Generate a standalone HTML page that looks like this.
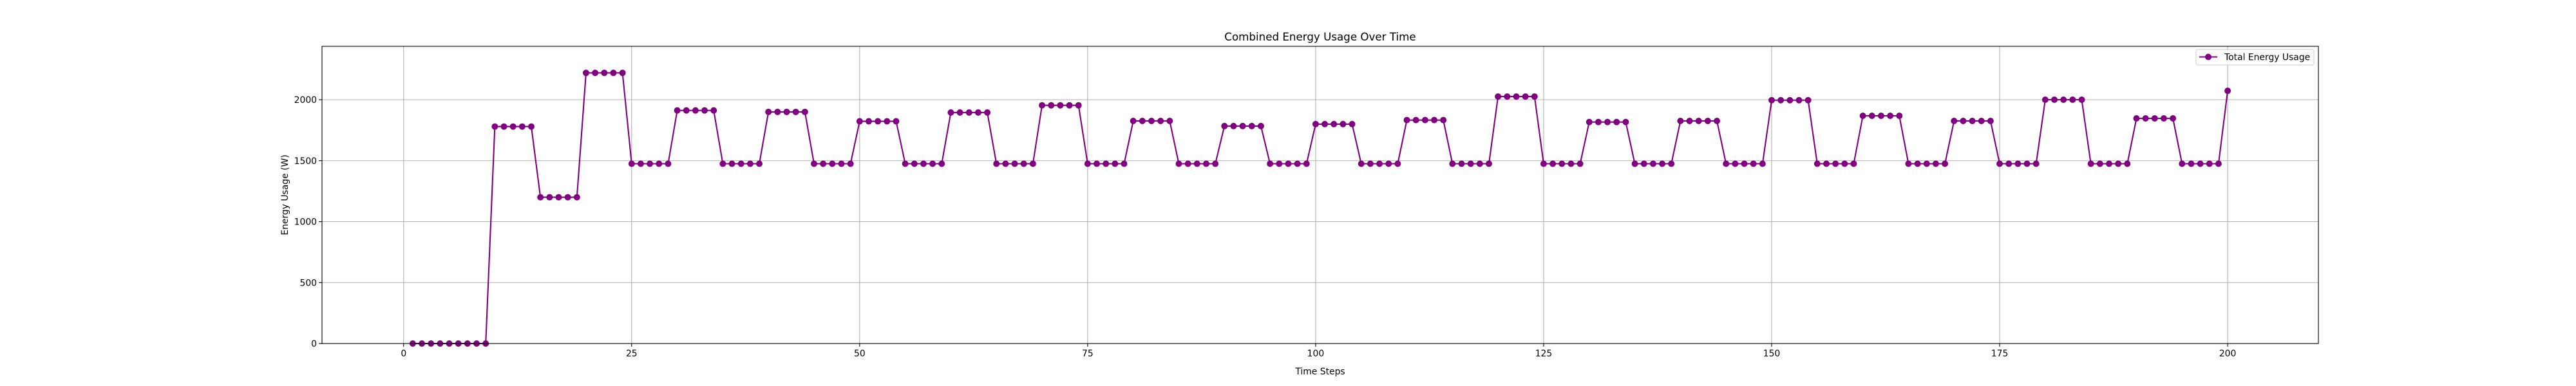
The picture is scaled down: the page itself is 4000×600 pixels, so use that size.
<!DOCTYPE html>
<html><head><meta charset="utf-8"><style>
html,body{margin:0;padding:0;background:#fff;}
svg{display:block;font-family:"DejaVu Sans","Liberation Sans",sans-serif;}
</style></head><body>
<svg id="chart" width="4000" height="600" viewBox="0 0 4000 600">
<rect x="0" y="0" width="4000" height="600" fill="#fff"/>
<text x="2050" y="63" font-size="16.7" text-anchor="middle" fill="#000">Combined Energy Usage Over Time</text>
<g id="grid"></g>
<g id="series"></g>
<rect x="500" y="72" width="3100" height="462" fill="none" stroke="#000" stroke-width="1.1"/>
<g id="xticks"></g>
<g id="yticks"></g>
<text x="2050" y="582" font-size="13.9" text-anchor="middle">Time Steps</text>
<text transform="translate(447,303) rotate(-90)" font-size="13.9" text-anchor="middle">Energy Usage (W)</text>
<g>
<rect x="3410" y="77" width="183" height="24" rx="3" fill="#fff" fill-opacity="0.8" stroke="#ccc" stroke-width="1"/>
<line x1="3415" y1="88.5" x2="3443" y2="88.5" stroke="#800080" stroke-width="2.1"/>
<circle cx="3429" cy="88.5" r="5" fill="#800080"/>
<text x="3454" y="93.5" font-size="13.9">Total Energy Usage</text>
</g>
</svg>
<script>
const timeSteps = [];
for (let i = 1; i <= 200; i++) timeSteps.push(i);
const startValues = [0,0,0,0,0,0,0,0,0,1780,1780,1780,1780,1780,1200,1200,1200,1200,1200,2220,2220,2220,2220,2220];
const highLevels = [1912,1900,1823,1895,1954,1826,1784,1800,1833,2026,1817,1826,1996,1868,1826,2000,1847];
const lowLevel = 1475;
const lastValue = 2073;
const xTicks = [0,25,50,75,100,125,150,175,200];
const yTicks = [0,500,1000,1500,2000];

const energy = startValues.slice();
for (let b = 0; b < highLevels.length; b++) {
  for (let k = 0; k < 5; k++) energy.push(lowLevel);
  for (let k = 0; k < 5; k++) energy.push(highLevels[b]);
}
for (let k = 0; k < 5; k++) energy.push(lowLevel);
energy.push(lastValue);

const L = 500, R = 3600, T = 72, B = 534;
const xMin = -8.95, xMax = 209.95, yMin = 0, yMax = 2438;
const xs = v => L + (v - xMin) / (xMax - xMin) * (R - L);
const ys = v => B - (v - yMin) / (yMax - yMin) * (B - T);
const NS = "http://www.w3.org/2000/svg";
function mk(tag, attrs, parent) {
  const e = document.createElementNS(NS, tag);
  for (const k in attrs) e.setAttribute(k, attrs[k]);
  parent.appendChild(e);
  return e;
}
const grid = document.getElementById('grid');
const xg = document.getElementById('xticks');
const yg = document.getElementById('yticks');
xTicks.forEach(t => {
  const x = xs(t);
  const g = mk('line', {x1:x, x2:x, y1:T, y2:B, stroke:'#b0b0b0', 'stroke-width':1.1}, grid);
  
  
  const tk = mk('line', {x1:x, x2:x, y1:B, y2:B+4.9, stroke:'#000', 'stroke-width':1.1}, xg);
  
  
  const tx = mk('text', {x:x, y:B+20, 'font-size':13.9, 'text-anchor':'middle'}, xg);
  tx.textContent = t;
  
  
});
yTicks.forEach(t => {
  const y = ys(t);
  const g = mk('line', {x1:L, x2:R, y1:y, y2:y, stroke:'#b0b0b0', 'stroke-width':1.1}, grid);
  
  
  const tk = mk('line', {x1:L-4.9, x2:L, y1:y, y2:y, stroke:'#000', 'stroke-width':1.1}, yg);
  
  
  const tx = mk('text', {x:L-8, y:y+5, 'font-size':13.9, 'text-anchor':'end'}, yg);
  tx.textContent = t;
  
  
});
const ser = document.getElementById('series');
const pts = energy.map((v, i) => xs(timeSteps[i]).toFixed(2) + ',' + ys(v).toFixed(2)).join(' ');
const pl = mk('polyline', {points:pts, fill:'none', stroke:'#800080', 'stroke-width':2.1, 'stroke-linejoin':'round'}, ser);


energy.forEach((v, i) => {
  const c = mk('circle', {cx:xs(timeSteps[i]), cy:ys(v), r:5, fill:'#800080'}, ser);
  
  
});
</script>
</body></html>
